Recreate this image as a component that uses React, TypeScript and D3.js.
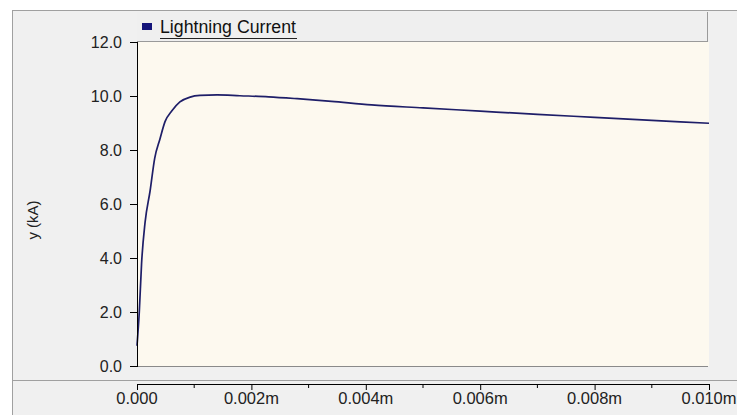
import React from "react";
import * as d3 from "d3";

// Lightning current waveform samples: time in seconds, current in kA
const timeS = [
  0, 0.00004, 0.00008, 0.00014, 0.00023, 0.00031, 0.0004, 0.00049, 0.00061,
  0.00075, 0.00093, 0.0011, 0.0014, 0.0018, 0.0023, 0.0028, 0.0034, 0.0041,
  0.005, 0.006, 0.007, 0.008, 0.009, 0.01,
];
const currentKA = [
  0.75, 2.0, 3.8, 5.3, 6.5, 7.7, 8.4, 9.05, 9.45, 9.78, 9.96, 10.02, 10.04,
  10.01, 9.97, 9.9, 9.8, 9.67, 9.56, 9.44, 9.32, 9.21, 9.1, 8.99,
];

const seriesName = "Lightning Current";
const yTicks = [0, 2, 4, 6, 8, 10, 12];
const yTickLabels = ["0.0", "2.0", "4.0", "6.0", "8.0", "10.0", "12.0"];
const xMajorTicks = [0, 0.002, 0.004, 0.006, 0.008, 0.01];
const xTickLabels = ["0.000", "0.002m", "0.004m", "0.006m", "0.008m", "0.010m"];
const xMinorTicks = [0.001, 0.003, 0.005, 0.007, 0.009];
const yTitle = "y (kA)";

const W = 737;
const H = 415;
const plot = { left: 137, right: 709, top: 42, bottom: 366 };
const font = "'Liberation Sans', Arial, sans-serif";

export default function App() {
  const x = d3.scaleLinear().domain([0, 0.01]).range([plot.left, plot.right]);
  const y = d3.scaleLinear().domain([0, 12]).range([plot.bottom, plot.top]);

  const points = timeS.map((t, i) => [t, currentKA[i]] as [number, number]);
  const linePath = d3
    .line<[number, number]>()
    .x((d) => x(d[0]))
    .y((d) => y(d[1]))
    .curve(d3.curveMonotoneX)(points) as string;

  const axisY = 384;
  const sepY = 380.5;

  return (
    <div style={{ position: "fixed", left: 0, top: 0 }}>
      <svg width={W} height={H} style={{ display: "block" }}>
        <rect x={0} y={0} width={W} height={H} fill="#ffffff" />
        {/* control frame */}
        <rect x={12} y={10} width={W - 12} height={H - 10} fill="#f0f0f0" />
        <line x1={12.5} y1={10} x2={12.5} y2={H} stroke="#a0a0a0" />
        <line x1={12} y1={10.5} x2={W} y2={10.5} stroke="#a0a0a0" />

        {/* legend strip */}
        <rect x={plot.left} y={12} width={plot.right - 1 - plot.left} height={plot.top - 12} fill="#efefef" />
        <line x1={plot.left} y1={plot.top - 0.5} x2={plot.right - 1} y2={plot.top - 0.5} stroke="#9a9a9a" />
        <line x1={plot.right - 1.5} y1={12} x2={plot.right - 1.5} y2={plot.top} stroke="#9a9a9a" />
        <rect x={142} y={23} width={10} height={7} fill="#14147a" />
        <text
          x={160}
          y={33}
          fontFamily={font}
          fontSize={17.5}
          fill="#111"
          textLength={136}
          lengthAdjust="spacingAndGlyphs"
        >
          {seriesName}
        </text>
        <line x1={160} y1={38.5} x2={297} y2={38.5} stroke="#222" strokeWidth={1.2} />

        {/* plot area */}
        <rect
          x={plot.left}
          y={plot.top}
          width={plot.right - plot.left}
          height={plot.bottom - plot.top}
          fill="#fdf9ef"
        />
        <line x1={plot.left} y1={plot.bottom + 0.5} x2={plot.right - 1} y2={plot.bottom + 0.5} stroke="#8a8a8a" />

        {/* series */}
        <path d={linePath} fill="none" stroke="#1e1e68" strokeWidth={1.7} />

        {/* y axis */}
        <line x1={plot.left + 0.5} y1={plot.top} x2={plot.left + 0.5} y2={plot.bottom + 1} stroke="#000" />
        {yTicks.map((v, i) => (
          <g key={v}>
            <line x1={plot.left - 7} y1={y(v) + 0.5} x2={plot.left} y2={y(v) + 0.5} stroke="#000" />
            <text
              x={plot.left - 15}
              y={y(v) + 5.5}
              textAnchor="end"
              fontFamily={font}
              fontSize={16}
              fill="#222"
            >
              {yTickLabels[i]}
            </text>
          </g>
        ))}
        <text
          transform={`translate(38,220) rotate(-90)`}
          textAnchor="middle"
          fontFamily={font}
          fontSize={15}
          fill="#222"
        >
          {yTitle}
        </text>

        {/* x axis */}
        <line x1={12} y1={sepY} x2={W} y2={sepY} stroke="#a0a0a0" />
        <line x1={plot.left} y1={axisY + 0.5} x2={plot.right + 0.5} y2={axisY + 0.5} stroke="#000" />
        {xMinorTicks.map((v) => (
          <line key={v} x1={x(v)} y1={axisY} x2={x(v)} y2={axisY + 4} stroke="#000" />
        ))}
        {xMajorTicks.map((v, i) => (
          <g key={v}>
            <line x1={x(v) + 0.5} y1={axisY} x2={x(v) + 0.5} y2={axisY + 6} stroke="#000" />
            <text
              x={x(v)}
              y={404}
              textAnchor="middle"
              fontFamily={font}
              fontSize={16.5}
              fill="#222"
            >
              {xTickLabels[i]}
            </text>
          </g>
        ))}
      </svg>
    </div>
  );
}
